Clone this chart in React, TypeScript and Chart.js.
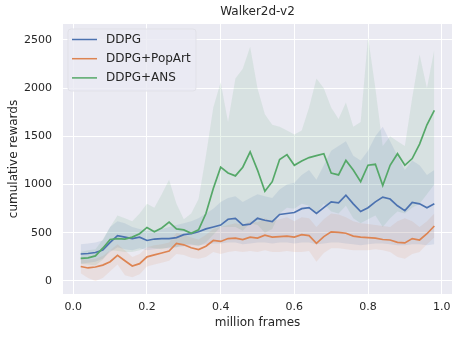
import React, { useEffect, useRef } from 'react';
import { Chart, registerables } from 'chart.js';

Chart.register(...registerables);

const chartTitle = 'Walker2d-v2';
const xLabel = 'million frames';
const yLabel = 'cumulative rewards';
const seriesNames = ['DDPG', 'DDPG+PopArt', 'DDPG+ANS'];
const xTicks = [0.0, 0.2, 0.4, 0.6, 0.8, 1.0];
const yTicks = [0, 500, 1000, 1500, 2000, 2500];

const frames = [
  0.02, 0.04, 0.06, 0.08, 0.10, 0.12, 0.14, 0.16, 0.18, 0.20,
  0.22, 0.24, 0.26, 0.28, 0.30, 0.32, 0.34, 0.36, 0.38, 0.40,
  0.42, 0.44, 0.46, 0.48, 0.50, 0.52, 0.54, 0.56, 0.58, 0.60,
  0.62, 0.64, 0.66, 0.68, 0.70, 0.72, 0.74, 0.76, 0.78, 0.80,
  0.82, 0.84, 0.86, 0.88, 0.90, 0.92, 0.94, 0.96, 0.98,
];

const ddpgMean = [
  280, 285, 295, 320, 400, 470, 455, 440, 455, 420,
  435, 440, 440, 450, 480, 490, 510, 540, 560, 580,
  640, 650, 580, 590, 650, 630, 615, 690, 700, 710,
  750, 760, 700, 760, 820, 810, 890, 800, 720, 760,
  820, 870, 850, 780, 730, 815, 800, 760, 800,
];
const ddpgHigh = [
  380, 390, 400, 420, 560, 620, 600, 560, 540, 520,
  520, 540, 560, 580, 600, 620, 650, 700, 750, 820,
  860, 880, 820, 860, 900, 880, 860, 950, 1000, 1020,
  1100, 1150, 1050, 1200, 1350, 1400, 1450, 1300, 1250, 1350,
  1500, 1600, 1450, 1300, 1150, 1250, 1200, 1100, 1150,
];
const ddpgLow = [
  180, 190, 200, 230, 300, 350, 330, 320, 340, 320,
  330, 340, 340, 350, 360, 370, 370, 380, 390, 390,
  400, 400, 380, 390, 400, 400, 390, 400, 400, 390,
  400, 400, 380, 390, 400, 400, 390, 380, 370, 380,
  390, 390, 380, 370, 370, 380, 380, 370, 380,
];

const popartMean = [
  150, 135, 145, 165, 200, 265, 210, 155, 180, 250,
  270, 290, 310, 390, 375, 345, 325, 360, 420, 410,
  440, 445, 430, 455, 445, 475, 455, 460, 465, 455,
  480, 470, 390, 460, 510, 505, 495, 465, 455, 450,
  445, 430, 425, 400, 395, 440, 425, 490, 570,
];
const popartHigh = [
  230, 220, 230, 260, 320, 380, 320, 250, 280, 350,
  370, 380, 400, 500, 480, 450, 430, 480, 540, 560,
  580, 600, 580, 620, 610, 650, 620, 640, 660, 620,
  660, 650, 560, 640, 700, 690, 660, 620, 600, 590,
  580, 570, 560, 620, 650, 620, 560, 620, 700,
];
const popartLow = [
  80, 30, 0, 30, 100, 170, 60, 40, 70, 150,
  170, 190, 210, 280, 270, 240, 230, 250, 300, 280,
  300, 310, 300, 310, 300, 320, 300, 300, 310, 300,
  300, 310, 200, 290, 340, 340, 330, 320, 320, 320,
  330, 320, 300, 250, 230, 280, 300, 380, 450,
];

const ansMean = [
  235, 240, 260, 340, 430, 440, 435, 455, 490, 555,
  510, 550, 610, 540, 530, 495, 530, 700, 960, 1180,
  1120, 1090, 1180, 1340, 1150, 930, 1030, 1260, 1310, 1200,
  1245, 1280, 1300, 1320, 1120, 1100, 1250, 1150, 1030, 1200,
  1210, 990, 1200, 1320, 1200, 1270, 1420, 1620, 1770,
];
const ansHigh = [
  300, 320, 330, 430, 560, 680, 650, 620, 700, 800,
  760, 900, 1050, 800, 640, 700, 850, 1300, 1800, 2060,
  1650, 2100, 2200, 2430, 2000, 1730, 1620, 1600, 1560, 1520,
  1560, 1800, 2100, 2000, 1800, 1680, 1850, 1600, 1650, 2530,
  2000, 1400, 1500, 1450, 1400, 1900, 2350, 2000, 2400,
];
const ansLow = [
  180, 170, 160, 220, 320, 310, 300, 300, 320, 350,
  340, 330, 350, 350, 380, 380, 360, 400, 480, 560,
  560, 560, 520, 600, 580, 500, 540, 700, 760, 750,
  800, 780, 700, 800, 720, 700, 780, 650, 600, 640,
  680, 560, 650, 720, 700, 760, 800, 900, 1000,
];

const lineColors = ['#4C72B0', '#DD8452', '#55A868'];
const bandColors = ['rgba(76,114,176,0.12)', 'rgba(221,132,82,0.12)', 'rgba(85,168,104,0.12)'];

const means = [ddpgMean, popartMean, ansMean];
const highs = [ddpgHigh, popartHigh, ansHigh];
const lows = [ddpgLow, popartLow, ansLow];

const pts = (vals: number[]) => frames.map((x, i) => ({ x, y: vals[i] }));

const TEXT = '#262626';
const FONT = 'DejaVu Sans';

const bgPlugin = {
  id: 'bgPlugin',
  beforeDraw(chart: any) {
    const { ctx, chartArea } = chart;
    ctx.save();
    ctx.fillStyle = '#EAEAF2';
    ctx.fillRect(chartArea.left, chartArea.top, chartArea.right - chartArea.left, chartArea.bottom - chartArea.top);
    ctx.fillStyle = TEXT;
    ctx.font = `12px "${FONT}"`;
    ctx.textAlign = 'center';
    ctx.textBaseline = 'middle';
    ctx.fillText(chartTitle, (chartArea.left + chartArea.right) / 2, 12);
    ctx.restore();
  },
};

const legendPlugin = {
  id: 'boxLegend',
  afterDatasetsDraw(chart: any) {
    const { ctx, chartArea } = chart;
    const x0 = chartArea.left + 5;
    const y0 = chartArea.top + 5;
    const w = 128;
    const h = 62;
    ctx.save();
    ctx.beginPath();
    const r = 3;
    ctx.moveTo(x0 + r, y0);
    ctx.arcTo(x0 + w, y0, x0 + w, y0 + h, r);
    ctx.arcTo(x0 + w, y0 + h, x0, y0 + h, r);
    ctx.arcTo(x0, y0 + h, x0, y0, r);
    ctx.arcTo(x0, y0, x0 + w, y0, r);
    ctx.closePath();
    ctx.fillStyle = 'rgba(234,234,242,0.8)';
    ctx.fill();
    ctx.strokeStyle = 'rgba(225,225,232,1)';
    ctx.lineWidth = 1;
    ctx.stroke();
    ctx.font = `12px "${FONT}"`;
    ctx.textBaseline = 'middle';
    ctx.textAlign = 'left';
    seriesNames.forEach((name, i) => {
      const cy = y0 + 10.5 + i * 19.2;
      ctx.strokeStyle = lineColors[i];
      ctx.lineWidth = 1.5;
      ctx.beginPath();
      ctx.moveTo(x0 + 4, cy);
      ctx.lineTo(x0 + 29, cy);
      ctx.stroke();
      ctx.fillStyle = TEXT;
      ctx.fillText(name, x0 + 38, cy);
    });
    ctx.restore();
  },
};

export default function App() {
  const ref = useRef<HTMLCanvasElement | null>(null);

  useEffect(() => {
    if (!ref.current) return;
    const datasets: any[] = [];
    [2, 1, 0].forEach((i) => {
      datasets.push({
        label: seriesNames[i],
        data: pts(means[i]),
        borderColor: lineColors[i],
        borderWidth: 1.7,
        pointRadius: 0,
        fill: false,
        tension: 0,
        order: 2 - i,
      });
    });
    [0, 1, 2].forEach((i) => {
      datasets.push({
        label: seriesNames[i] + ' high',
        data: pts(highs[i]),
        borderWidth: 0,
        borderColor: 'rgba(0,0,0,0)',
        pointRadius: 0,
        fill: false,
        order: 10,
      });
      datasets.push({
        label: seriesNames[i] + ' low',
        data: pts(lows[i]),
        borderWidth: 0,
        borderColor: 'rgba(0,0,0,0)',
        backgroundColor: bandColors[i],
        pointRadius: 0,
        fill: '-1',
        order: 10,
      });
    });

    const chart = new Chart(ref.current, {
      type: 'line',
      data: { datasets },
      plugins: [bgPlugin, legendPlugin],
      options: {
        animation: false,
        responsive: false,
        devicePixelRatio: 1,
        layout: { padding: { left: 0, right: 13, top: 24, bottom: 0 } },
        font: { family: FONT },
        plugins: {
          legend: { display: false },
          tooltip: { enabled: false },
          title: { display: false },
        },
        scales: {
          x: {
            type: 'linear',
            min: -0.028,
            max: 1.028,
            afterBuildTicks: (s: any) => {
              s.ticks = xTicks.map((v) => ({ value: v }));
            },
            afterFit: (s: any) => {
              s.height = 44;
            },
            grid: { color: '#FFFFFF', lineWidth: 1, drawTicks: false },
            border: { display: false },
            ticks: {
              color: TEXT,
              font: { family: FONT, size: 11 },
              padding: 7,
              maxRotation: 0,
              callback: (v: any) => Number(v).toFixed(1),
            },
            title: {
              display: true,
              text: xLabel,
              color: TEXT,
              font: { family: FONT, size: 12 },
              padding: { top: 0, bottom: 7.8 },
            },
          },
          y: {
            type: 'linear',
            min: -135,
            max: 2665,
            afterBuildTicks: (s: any) => {
              s.ticks = yTicks.map((v) => ({ value: v }));
            },
            afterFit: (s: any) => {
              s.width = 63;
            },
            grid: { color: '#FFFFFF', lineWidth: 1, drawTicks: false },
            border: { display: false },
            ticks: {
              color: TEXT,
              font: { family: FONT, size: 11 },
              padding: 11,
              callback: (v: any) => String(v),
            },
            title: {
              display: true,
              text: yLabel,
              color: TEXT,
              font: { family: FONT, size: 12 },
              padding: { top: 6.8, bottom: 0 },
            },
          },
        },
      } as any,
    });
    return () => chart.destroy();
  }, []);

  return (
    <div style={{ position: 'absolute', left: 0, top: 0, width: 465, height: 338, background: '#fff' }}>
      <canvas ref={ref} width={465} height={338} style={{ display: 'block', width: 465, height: 338 }} />
    </div>
  );
}
